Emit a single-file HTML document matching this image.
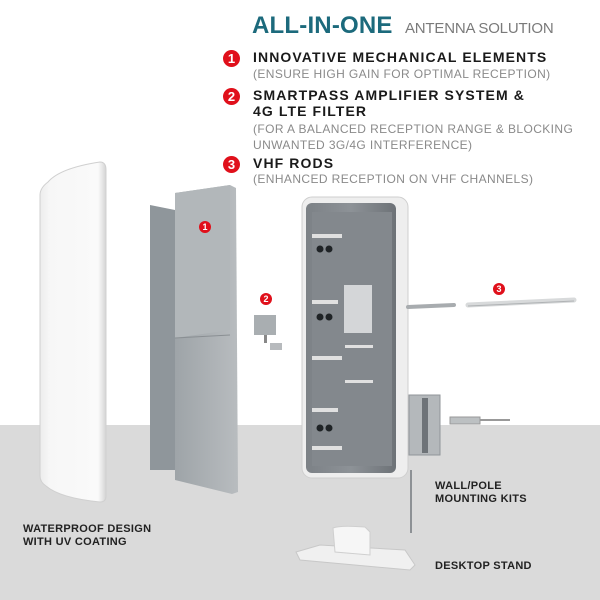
<!DOCTYPE html>
<html><head><meta charset="utf-8"><style>
html,body{margin:0;padding:0;}
body{width:600px;height:600px;overflow:hidden;background:#fff;font-family:"Liberation Sans",sans-serif;position:relative;}
.t{position:absolute;white-space:nowrap;}
.h{font-weight:bold;font-size:14px;color:#1a1a1a;letter-spacing:1.1px;}
.s{font-size:12px;color:#8a8a8a;letter-spacing:0.4px;}
.n{position:absolute;width:17px;height:17px;border-radius:50%;background:#e0101b;color:#fff;font-weight:bold;font-size:13px;text-align:center;line-height:17px;}
.l{font-weight:bold;font-size:11px;color:#222;line-height:13px;letter-spacing:0.3px;}
</style></head><body>
<svg width="600" height="600" style="position:absolute;left:0;top:0">
<defs>
<linearGradient id="cov" x1="0" x2="1"><stop offset="0" stop-color="#ececec"/><stop offset="0.15" stop-color="#f7f7f7"/><stop offset="0.88" stop-color="#fafafa"/><stop offset="1" stop-color="#d4d4d4"/></linearGradient>
<linearGradient id="ref" x1="0" x2="1"><stop offset="0" stop-color="#9ea4a8"/><stop offset="1" stop-color="#b8bcbf"/></linearGradient>
<linearGradient id="hou" x1="0" x2="1"><stop offset="0" stop-color="#7c8186"/><stop offset="0.5" stop-color="#8d9297"/><stop offset="1" stop-color="#6d7277"/></linearGradient>
</defs>
<rect x="0" y="425" width="600" height="175" fill="#dadada"/>
<path d="M48 182 Q60 168 100 162 Q106 162 106 170 L106 496 Q106 502 100 502 Q60 498 46 486 Q40 482 40 476 L40 195 Q40 188 48 182Z" fill="url(#cov)" stroke="#d0d0d0" stroke-width="1"/>
<polygon points="150,205 175,210 175,470 150,470" fill="#8f969b"/>
<polygon points="175,193 230,185 236,188 238,492 232,494 175,480" fill="url(#ref)"/>
<polygon points="175,193 230,185 230,330 175,338" fill="#b2b7ba"/>
<line x1="175" y1="338" x2="230" y2="335" stroke="#8a8f93"/>
<rect x="302" y="197" width="106" height="281" rx="10" fill="#eeeeee" stroke="#cfcfcf"/>
<rect x="306" y="203" width="90" height="270" rx="6" fill="url(#hou)"/>
<rect x="312" y="212" width="80" height="254" fill="#83888d"/>
<rect x="344" y="285" width="28" height="48" fill="#d4d6d8"/>
<g fill="#e0e0e0"><rect x="312" y="234" width="30" height="4"/><rect x="312" y="300" width="26" height="4"/><rect x="345" y="345" width="28" height="3"/><rect x="312" y="356" width="30" height="4"/><rect x="345" y="380" width="28" height="3"/><rect x="312" y="408" width="26" height="4"/><rect x="312" y="446" width="30" height="4"/></g>
<g fill="#1f2326"><circle cx="320" cy="249" r="3.5"/><circle cx="329" cy="249" r="3.5"/><circle cx="320" cy="317" r="3.5"/><circle cx="329" cy="317" r="3.5"/><circle cx="320" cy="428" r="3.5"/><circle cx="329" cy="428" r="3.5"/></g>
<rect x="254" y="315" width="22" height="20" fill="#a9aeb1"/>
<rect x="264" y="335" width="3" height="8" fill="#888"/>
<rect x="270" y="343" width="12" height="7" fill="#b7babd"/>
<line x1="408" y1="307" x2="454" y2="305" stroke="#a8acaf" stroke-width="4" stroke-linecap="round"/>
<line x1="468" y1="305" x2="574" y2="300" stroke="#d8dadb" stroke-width="5" stroke-linecap="round"/>
<line x1="468" y1="306" x2="574" y2="301" stroke="#b0b3b5" stroke-width="1"/>
<rect x="409" y="395" width="31" height="60" fill="#b4b8bb" stroke="#90959a"/>
<rect x="422" y="398" width="6" height="55" fill="#6e7378"/>
<rect x="450" y="417" width="30" height="7" fill="#bcc0c2" stroke="#999"/>
<line x1="480" y1="420" x2="510" y2="420" stroke="#999" stroke-width="2"/>
<line x1="411" y1="470" x2="411" y2="533" stroke="#8d9195" stroke-width="2"/>
<polygon points="296,552 320,545 405,550 415,565 410,570 300,560" fill="#f0f0f0" stroke="#c8c8c8"/>
<path d="M333 528 Q340 525 365 527 L370 532 L370 555 L335 552 Z" fill="#f6f6f6" stroke="#cfcfcf"/>
</svg>
<div class="n" style="left:199px;top:221px;width:12px;height:12px;line-height:12px;font-size:9px">1</div>
<div class="n" style="left:260px;top:293px;width:12px;height:12px;line-height:12px;font-size:9px">2</div>
<div class="n" style="left:493px;top:283px;width:12px;height:12px;line-height:12px;font-size:9px">3</div>

<div class="t" style="left:252px;top:12px;font-weight:bold;font-size:24px;color:#1c6a7c;letter-spacing:0.2px;">ALL-IN-ONE</div>
<div class="t" style="left:405px;top:20px;font-size:15px;color:#7a7a7a;letter-spacing:-0.2px;">ANTENNA SOLUTION</div>
<div class="n" style="left:223px;top:50px">1</div>
<div class="t h" style="left:253px;top:49px">INNOVATIVE MECHANICAL ELEMENTS</div>
<div class="t s" style="left:253px;top:67px">(ENSURE HIGH GAIN FOR OPTIMAL RECEPTION)</div>
<div class="n" style="left:223px;top:88px">2</div>
<div class="t h" style="left:253px;top:87px">SMARTPASS AMPLIFIER SYSTEM &amp;</div>
<div class="t h" style="left:253px;top:103px">4G LTE FILTER</div>
<div class="t s" style="left:253px;top:122px">(FOR A BALANCED RECEPTION RANGE &amp; BLOCKING</div>
<div class="t s" style="left:253px;top:138px">UNWANTED 3G/4G INTERFERENCE)</div>
<div class="n" style="left:223px;top:156px">3</div>
<div class="t h" style="left:253px;top:155px">VHF RODS</div>
<div class="t s" style="left:253px;top:172px">(ENHANCED RECEPTION ON VHF CHANNELS)</div>

<div class="t l" style="left:435px;top:480px">WALL/POLE<br>MOUNTING KITS</div>
<div class="t l" style="left:23px;top:523px">WATERPROOF DESIGN<br>WITH UV COATING</div>
<div class="t l" style="left:435px;top:560px">DESKTOP STAND</div>
</body></html>
